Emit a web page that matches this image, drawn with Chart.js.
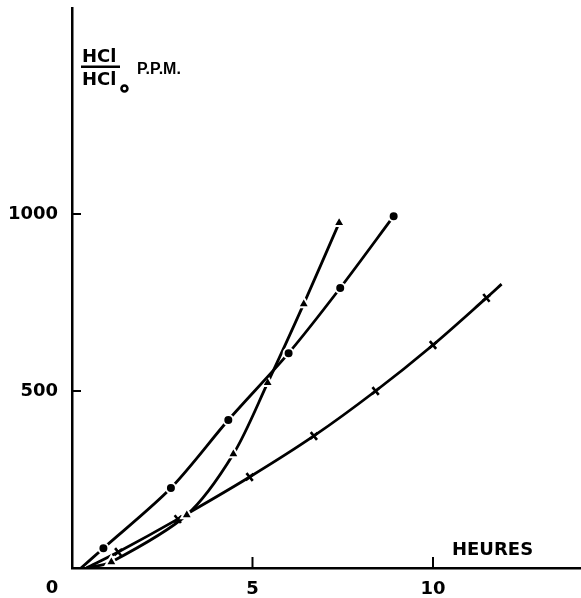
<!DOCTYPE html>
<html><head><meta charset="utf-8">
<script src="https://cdn.jsdelivr.net/npm/chart.js@4.4.1/dist/chart.umd.min.js"></script>
<style>html,body{margin:0;padding:0;background:#fff}#wrap{width:581px;height:598px;position:relative}</style>
</head><body><div id="wrap"><canvas id="c"></canvas></div>
<script>
// Data (x = heures, y = HCl/HCl0 p.p.m.)
const circleX = [0.25, 0.87, 2.74, 4.33, 6.0, 7.43, 8.91];
const circleY = [0, 56, 226, 418, 607, 791, 994];
const triangleX = [0.4, 1.09, 3.18, 4.47, 5.42, 6.42, 7.40];
const triangleY = [0, 17, 150, 322, 523, 746, 975];
const crossX = [0.4, 1.28, 2.93, 4.92, 6.70, 8.41, 10.0, 11.48, 11.9];
const crossY = [0, 45, 138, 257, 373, 500, 630, 763, 802];
const xTicks = [5, 10];
const yTicks = [500, 1000];
const xTitle = 'HEURES';
const yTitleNum = 'HCl';
const yTitleDen = 'HCl';
const yTitleSub = 'o';
const yUnit = 'P.P.M.';
const originLabel = '0';

const FONT = '"DejaVu Sans", sans-serif';
const FONT2 = '"Liberation Sans", Arial, sans-serif';
const pts = (xs, ys) => xs.map((x, i) => ({x, y: ys[i]}));
const radiusFn = (n, r, skipLast) => ctx => (ctx.dataIndex === 0 || (skipLast && ctx.dataIndex === n - 1)) ? 0 : r;

const overlay = {
  id: 'overlay',
  afterDraw(chart) {
    const ctx = chart.ctx, xs = chart.scales.x, ys = chart.scales.y;
    ctx.save();
    ctx.strokeStyle = '#000'; ctx.fillStyle = '#000'; ctx.lineWidth = 2;
    // inward tick marks
    yTicks.forEach(v => { const p = ys.getPixelForValue(v); ctx.beginPath(); ctx.moveTo(xs.left, p); ctx.lineTo(xs.left + 9, p); ctx.stroke(); });
    xTicks.forEach(v => { const p = xs.getPixelForValue(v); ctx.beginPath(); ctx.moveTo(p, ys.bottom); ctx.lineTo(p, ys.bottom - 11); ctx.stroke(); });
    // y title as a fraction
    ctx.font = 'bold 18px ' + FONT;
    ctx.textBaseline = 'alphabetic'; ctx.textAlign = 'left';
    ctx.fillText(yTitleNum, 82, 62);
    ctx.fillRect(81, 65.5, 39, 2.5);
    ctx.fillText(yTitleDen, 82, 85);
    const w = ctx.measureText(yTitleDen).width;
    ctx.beginPath(); ctx.arc(82 + w + 8, 88.5, 3, 0, Math.PI * 2); ctx.lineWidth = 2.5; ctx.stroke();
    ctx.font = 'bold 16px ' + FONT2;
    ctx.fillText(yUnit, 137, 73.5);
    ctx.font = 'bold 18px ' + FONT;
    ctx.fillText(xTitle, 452, 555);
    ctx.textAlign = 'center';
    ctx.fillText(originLabel, 52, 593);
    ctx.restore();
  }
};

const common = { borderColor: '#000', borderWidth: 2.8, tension: 0.3, pointBackgroundColor: '#000' };

new Chart(document.getElementById('c'), {
  type: 'line',
  data: {
    datasets: [
      Object.assign({ label: 'circles', data: pts(circleX, circleY), pointStyle: 'circle',
        pointRadius: radiusFn(circleX.length, 5, false), pointBorderColor: '#fff', pointBorderWidth: 2 }, common),
      Object.assign({ label: 'triangles', data: pts(triangleX, triangleY), pointStyle: 'triangle',
        pointRadius: radiusFn(triangleX.length, 6.5, false), pointBorderColor: '#fff', pointBorderWidth: 2 }, common),
      Object.assign({ label: 'crosses', data: pts(crossX, crossY), pointStyle: 'cross', pointRotation: 51,
        pointRadius: radiusFn(crossX.length, 5, true), pointBorderColor: '#000', pointBorderWidth: 2.6 }, common)
    ]
  },
  options: {
    responsive: true, maintainAspectRatio: false, animation: false,
    layout: { autoPadding: false, padding: { top: 8, right: 0, left: 0, bottom: 0 } },
    plugins: { legend: { display: false }, tooltip: { enabled: false } },
    scales: {
      x: { type: 'linear', min: 0, max: 14.1,
        afterFit: s => { s.height = 30; s.paddingLeft = 0; s.paddingRight = 0; },
        afterBuildTicks: s => { s.ticks = xTicks.map(v => ({value: v})); },
        grid: { display: true, color: 'rgba(0,0,0,0)', drawTicks: false },
        border: { display: true, color: '#000', width: 2.5 },
        ticks: { color: '#000', padding: 11, callback: v => String(v), font: { family: FONT, size: 18, weight: 'bold' }, maxRotation: 0, autoSkip: false } },
      y: { type: 'linear', min: 0, max: 1582,
        afterFit: s => { s.width = 72; s.paddingTop = 0; s.paddingBottom = 0; },
        afterBuildTicks: s => { s.ticks = yTicks.map(v => ({value: v})); },
        grid: { display: true, color: 'rgba(0,0,0,0)', drawTicks: false },
        border: { display: true, color: '#000', width: 2.5 },
        ticks: { color: '#000', padding: 14, callback: v => String(v), font: { family: FONT, size: 18, weight: 'bold' }, autoSkip: false } }
    }
  },
  plugins: [overlay]
});
</script></body></html>
